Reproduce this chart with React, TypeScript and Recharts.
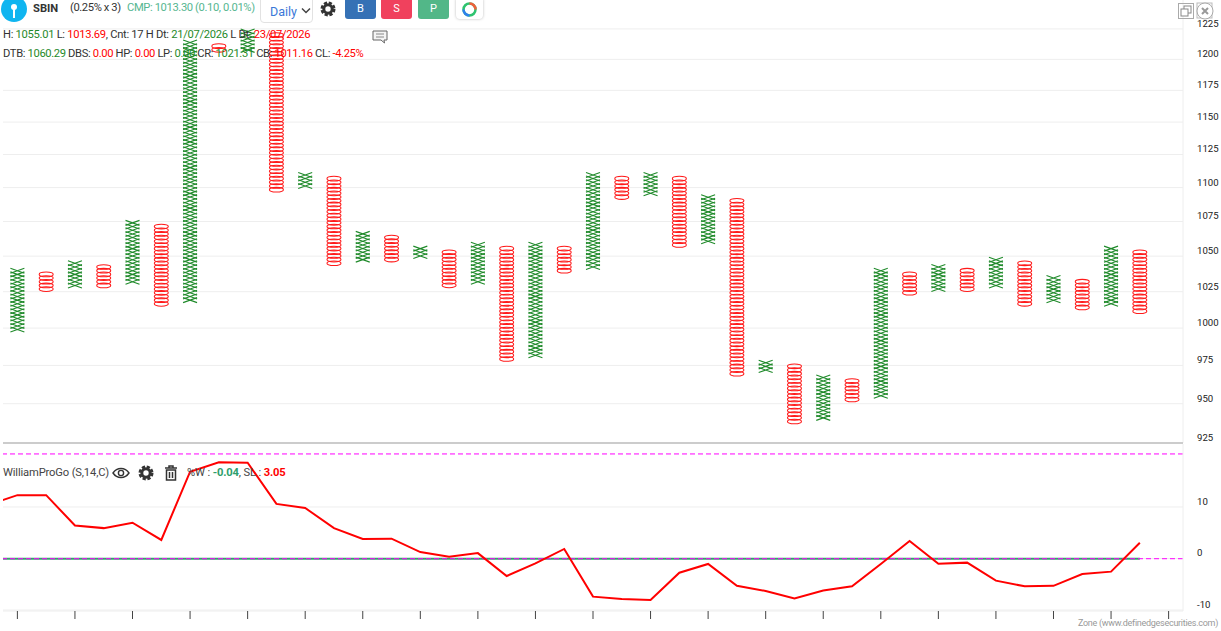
import { CartesianGrid, ComposedChart, Line, ReferenceLine, Scatter, ScatterChart, XAxis, YAxis } from 'recharts'

// Point & figure columns, left to right (last slot on the axis stays empty)
const columnKinds = [
  'X', 'O', 'X', 'O', 'X', 'O', 'X', 'O', 'X', 'O',
  'X', 'O', 'X', 'O', 'X', 'O', 'X', 'O', 'X', 'O',
  'X', 'O', 'X', 'O', 'X', 'O', 'X', 'O', 'X', 'O',
  'X', 'O', 'X', 'O', 'X', 'O', 'X', 'O', 'X', 'O',
]
const columnHighs = [
  1039.7, 1037.1, 1044.9, 1042.3, 1074.0, 1071.3, 1213.8, 1210.8, 1222.9, 1219.9,
  1109.5, 1106.7, 1066.0, 1063.4, 1055.4, 1052.8, 1058.1, 1055.4, 1058.1, 1055.4,
  1109.5, 1106.7, 1109.5, 1106.7, 1092.9, 1090.2, 976.8, 974.4, 967.1, 964.7,
  1039.7, 1037.1, 1042.3, 1039.7, 1047.5, 1044.9, 1034.5, 1032.0, 1055.4, 1052.8,
]
const columnLows = [
  999.0, 1026.8, 1029.4, 1029.4, 1032.0, 1016.6, 1019.2, 1207.8, 1207.8, 1098.4,
  1101.2, 1044.9, 1047.5, 1047.5, 1050.2, 1029.4, 1032.0, 979.2, 981.7, 1039.7,
  1042.3, 1092.9, 1095.7, 1058.1, 1060.7, 969.5, 971.9, 938.5, 940.9, 952.7,
  955.1, 1024.3, 1026.8, 1026.8, 1029.4, 1016.6, 1019.2, 1014.1, 1016.6, 1011.5,
]
const boxRatio = 1.0025

const priceTicks = [925, 950, 975, 1000, 1025, 1050, 1075, 1100, 1125, 1150, 1175, 1200, 1225]
const oscTicks = [-10, 0, 10]
const slotTicks = [0, 2, 4, 6, 8, 10, 12, 14, 16, 18, 20, 22, 24, 26, 28, 30, 32, 34, 36, 38, 40]

// Oscillator starts one slot left of the visible area, so the lines run in from the edge
const oscSlots = [
  -1, 0, 1, 2, 3, 4, 5, 6, 7, 8, 9, 10, 11, 12, 13, 14, 15, 16, 17, 18, 19,
  20, 21, 22, 23, 24, 25, 26, 27, 28, 29, 30, 31, 32, 33, 34, 35, 36, 37, 38, 39,
]
const williamValues = [
  10.4, 12.3, 12.3, 6.4, 5.9, 6.95, 3.6, 16.85, 18.7, 18.6, 10.6,
  9.8, 5.9, 3.8, 3.85, 1.25, 0.35, 1.05, -3.4, -0.95, 1.85,
  -7.4, -7.85, -8.05, -2.75, -1.05, -5.3, -6.3, -7.75, -6.2, -5.4,
  -1.05, 3.4, -1.0, -0.8, -4.3, -5.4, -5.3, -3.0, -2.55, 3.05,
]
const signalValues = [
  -0.04, -0.04, -0.04, -0.04, -0.04, -0.04, -0.04, -0.04, -0.04, -0.04, -0.04,
  -0.04, -0.04, -0.04, -0.04, -0.04, -0.04, -0.04, -0.04, -0.04, -0.04,
  -0.04, -0.04, -0.04, -0.04, -0.04, -0.04, -0.04, -0.04, -0.04, -0.04,
  -0.04, -0.04, -0.04, -0.04, -0.04, -0.04, -0.04, -0.04, -0.04, -0.04,
]

function boxesOf(kind: string) {
  const boxes: { slot: number; price: number }[] = []
  columnKinds.forEach((k, slot) => {
    if (k !== kind) return
    const count = Math.round(Math.log(columnHighs[slot] / columnLows[slot]) / Math.log(boxRatio))
    for (let i = 0; i <= count; i++) {
      boxes.push({ slot, price: columnHighs[slot] / Math.pow(boxRatio, i) })
    }
  })
  return boxes
}

const xBoxes = boxesOf('X')
const oBoxes = boxesOf('O')
const oscData = oscSlots.map((slot, i) => ({
  slot,
  william: williamValues[i],
  signal: signalValues[i],
}))

const FONT = 'Roboto, sans-serif'
const GREEN = '#1f8a2a'
const TEAL = '#55b690'

function XMark({ cx, cy }: any) {
  return (
    <path
      d={`M${cx - 7} ${cy - 2.5}L${cx + 7} ${cy + 2.5}M${cx - 7} ${cy + 2.5}L${cx + 7} ${cy - 2.5}`}
      stroke={GREEN}
      strokeWidth={1.1}
      fill="none"
    />
  )
}

function OMark({ cx, cy }: any) {
  return <ellipse cx={cx} cy={cy} rx={7} ry={2.3} stroke="#ff1a1a" strokeWidth={1.05} fill="none" />
}

function Gear({ x, y }: { x: number; y: number }) {
  return (
    <svg style={{ position: 'absolute', left: x - 9, top: y - 9 }} width={18} height={18}>
      <circle cx={9} cy={9} r={4.2} stroke="#333" strokeWidth={3} fill="none" />
      <circle cx={9} cy={9} r={6.2} stroke="#333" strokeWidth={2.6} fill="none" strokeDasharray="3.2 1.67" />
    </svg>
  )
}

function Label({ x, y, size = 11.2, color = '#333', weight = 400, spacing = -0.3, children }: any) {
  return (
    <div
      style={{
        position: 'absolute', left: x, top: y, fontSize: size, color, fontWeight: weight, letterSpacing: spacing,
        fontFamily: FONT, lineHeight: '16px', whiteSpace: 'nowrap',
      }}
    >
      {children}
    </div>
  )
}

function Button({ x, w, bg, text }: any) {
  return (
    <div
      style={{
        position: 'absolute', left: x, top: 0, width: w, height: 19, background: bg, color: '#fff',
        borderRadius: '0 0 3px 3px', fontFamily: FONT, fontSize: 11, textAlign: 'center', lineHeight: '18px',
      }}
    >
      {text}
    </div>
  )
}

const axisTick = { fontSize: 9.6, fill: '#222', fontFamily: FONT, dy: -5.5 }

export default function App() {
  return (
    <div style={{ position: 'absolute', left: 0, top: 0, width: 1221, height: 631, background: '#fff', overflow: 'hidden' }}>
      <div style={{ position: 'absolute', left: 0, top: 0 }}>
        <ScatterChart width={1221} height={444} margin={{ top: 0, right: 0, bottom: 1, left: 3 }}>
          <CartesianGrid horizontal vertical={false} stroke="#eeeeee" syncWithTicks />
          <XAxis type="number" dataKey="slot" domain={[-0.5, 40.5]} hide allowDataOverflow />
          <YAxis
            type="number"
            dataKey="price"
            orientation="right"
            scale="log"
            domain={[925, 1249.3]}
            ticks={priceTicks}
            interval={0}
            allowDataOverflow
            width={38}
            stroke="#eeeeee"
            tickLine={false}
            tickMargin={8}
            tick={axisTick}
          />
          <Scatter data={xBoxes} isAnimationActive={false} shape={(p: any) => <XMark cx={p.cx} cy={p.cy} />} />
          <Scatter data={oBoxes} isAnimationActive={false} shape={(p: any) => <OMark cx={p.cx} cy={p.cy} />} />
        </ScatterChart>
      </div>

      <div style={{ position: 'absolute', left: 3, top: 442, width: 1180, height: 2, background: '#cccccc' }} />

      <div style={{ position: 'absolute', left: 0, top: 444 }}>
        <ComposedChart width={1221} height={187} data={oscData} margin={{ top: 0, right: 0, bottom: 0, left: 3 }}>
          <CartesianGrid horizontal vertical={false} stroke="#eeeeee" syncWithTicks />
          <XAxis
            type="number"
            dataKey="slot"
            domain={[-0.5, 40.5]}
            allowDataOverflow
            ticks={slotTicks}
            interval={0}
            height={20}
            stroke="#eeeeee"
            tickSize={8}
            tickLine={{ stroke: '#444' }}
            tickFormatter={() => ''}
          />
          <YAxis
            orientation="right"
            domain={[-10.19, 22.23]}
            ticks={oscTicks}
            interval={0}
            allowDataOverflow
            width={38}
            stroke="#eeeeee"
            tickLine={false}
            tickMargin={8}
            tick={axisTick}
          />
          <Line dataKey="signal" stroke="#35a06e" strokeWidth={2} dot={false} isAnimationActive={false} />
          <ReferenceLine y={20.3} stroke="#ff00ff" strokeDasharray="5 3" />
          <ReferenceLine y={-0.04} stroke="#ff00ff" strokeDasharray="5 3" />
          <Line dataKey="william" stroke="#ff0000" strokeWidth={2} dot={false} isAnimationActive={false} />
        </ComposedChart>
      </div>

      {/* toolbar */}
      <svg style={{ position: 'absolute', left: 1, top: -4 }} width={26} height={26}>
        <circle cx={13} cy={13} r={13} fill="#10b5f0" />
        <circle cx={13} cy={11} r={3} fill="#fff" />
        <rect x={12} y={12} width={2} height={10} fill="#fff" />
      </svg>
      <Label x={33} y={1} weight={700} spacing={0}>SBIN</Label>
      <Label x={70} y={0} spacing={-0.4}>(0.25% x 3)</Label>
      <Label x={127} y={0} color={TEAL} spacing={-0.38}>CMP: 1013.30 (0.10, 0.01%)</Label>
      <div style={{ position: 'absolute', left: 260, top: -4, width: 53, height: 27, border: '1px solid #e2e2e2', borderRadius: 4, boxSizing: 'border-box' }} />
      <Label x={270} y={4} size={12.5} color="#3a78d8" spacing={0}>Daily</Label>
      <svg style={{ position: 'absolute', left: 301, top: 7 }} width={10} height={8}>
        <path d="M1 1.5L5 5.5L9 1.5" stroke="#444" strokeWidth={1.5} fill="none" />
      </svg>
      <Gear x={328} y={9} />
      <Button x={345} w={31} bg="#3571b5" text="B" />
      <Button x={381} w={31} bg="#f0415d" text="S" />
      <Button x={418} w={31} bg="#52b788" text="P" />
      <div style={{ position: 'absolute', left: 456, top: -3, width: 27, height: 22, borderRadius: 4, boxShadow: '0 0 3px #bbb', background: '#fff' }} />
      <svg style={{ position: 'absolute', left: 461, top: 1 }} width={17} height={17}>
        <circle cx={8.5} cy={8.5} r={6} fill="none" stroke="#2ec46f" strokeWidth={2.5} />
        <path d="M8.5 2.5A6 6 0 0 1 14.5 8.5" fill="none" stroke="#f0603a" strokeWidth={2.5} />
        <path d="M2.5 8.5A6 6 0 0 0 8.5 14.5" fill="none" stroke="#2f80ed" strokeWidth={2.5} />
      </svg>

      {/* info rows */}
      <Label x={3} y={27}>
        H: <span style={{ color: GREEN }}>1055.01</span> L: <span style={{ color: '#f00' }}>1013.69</span>, Cnt: 17 H Dt:{' '}
        <span style={{ color: GREEN }}>21/07/2026</span> L Dt: <span style={{ color: '#f00' }}>23/07/2026</span>
      </Label>
      <Label x={3} y={46} spacing={-0.36}>
        DTB: <span style={{ color: GREEN }}>1060.29</span> DBS: <span style={{ color: '#f00' }}>0.00</span> HP:{' '}
        <span style={{ color: '#f00' }}>0.00</span> LP: <span style={{ color: GREEN }}>0.00</span> CR:{' '}
        <span style={{ color: GREEN }}>1021.31</span> CB: <span style={{ color: '#f00' }}>1011.16</span> CL:{' '}
        <span style={{ color: '#f00' }}>-4.25%</span>
      </Label>
      <svg style={{ position: 'absolute', left: 372, top: 30 }} width={16} height={15}>
        <path d="M1 1H15V10H12L12.5 13L9 10H1Z" fill="#f4f4f4" stroke="#666" strokeWidth={1} />
        <path d="M4 4H12M4 7H12" stroke="#888" strokeWidth={1} />
      </svg>

      {/* window icons */}
      <svg style={{ position: 'absolute', left: 1178, top: 3 }} width={16} height={16}>
        <rect x={0.5} y={0.5} width={15} height={15} fill="none" stroke="#aaa" />
        <rect x={6} y={3} width={7} height={7} fill="none" stroke="#888" />
        <rect x={3} y={6} width={7} height={7} fill="#fff" stroke="#888" />
      </svg>
      <svg style={{ position: 'absolute', left: 1196, top: 2 }} width={18} height={18}>
        <rect x={1} y={1} width={15} height={15} fill="none" stroke="#bbb" />
        <circle cx={9} cy={9} r={8} fill="#fff" stroke="#aaa" />
        <path d="M6 6L12 12M12 6L6 12" stroke="#999" strokeWidth={2} />
      </svg>

      {/* oscillator legend */}
      <Label x={3} y={465} color="#444" spacing={-0.15}>WilliamProGo (S,14,C)</Label>
      <svg style={{ position: 'absolute', left: 112, top: 466 }} width={18} height={14}>
        <path d="M1 7C5 1 13 1 17 7C13 13 5 13 1 7Z" fill="none" stroke="#333" strokeWidth={1.4} />
        <circle cx={9} cy={7} r={2.6} fill="none" stroke="#333" strokeWidth={1.4} />
      </svg>
      <Gear x={146} y={473} />
      <svg style={{ position: 'absolute', left: 164, top: 465 }} width={14} height={16}>
        <path d="M1 3H13M5 3V1H9V3M2.5 5H11.5V15H2.5ZM5.5 7V13M8.5 7V13" fill="none" stroke="#333" strokeWidth={1.5} />
      </svg>
      <Label x={187} y={465} color="#444" spacing={-0.15}>
        %W : <span style={{ color: '#2e9e6b', fontWeight: 700 }}>-0.04</span>, SL : <span style={{ color: '#f00', fontWeight: 700 }}>3.05</span>
      </Label>

      <Label x={1078} y={615} size={9} color="#999" spacing={-0.28}>Zone (www.definedgesecurities.com)</Label>
    </div>
  )
}
